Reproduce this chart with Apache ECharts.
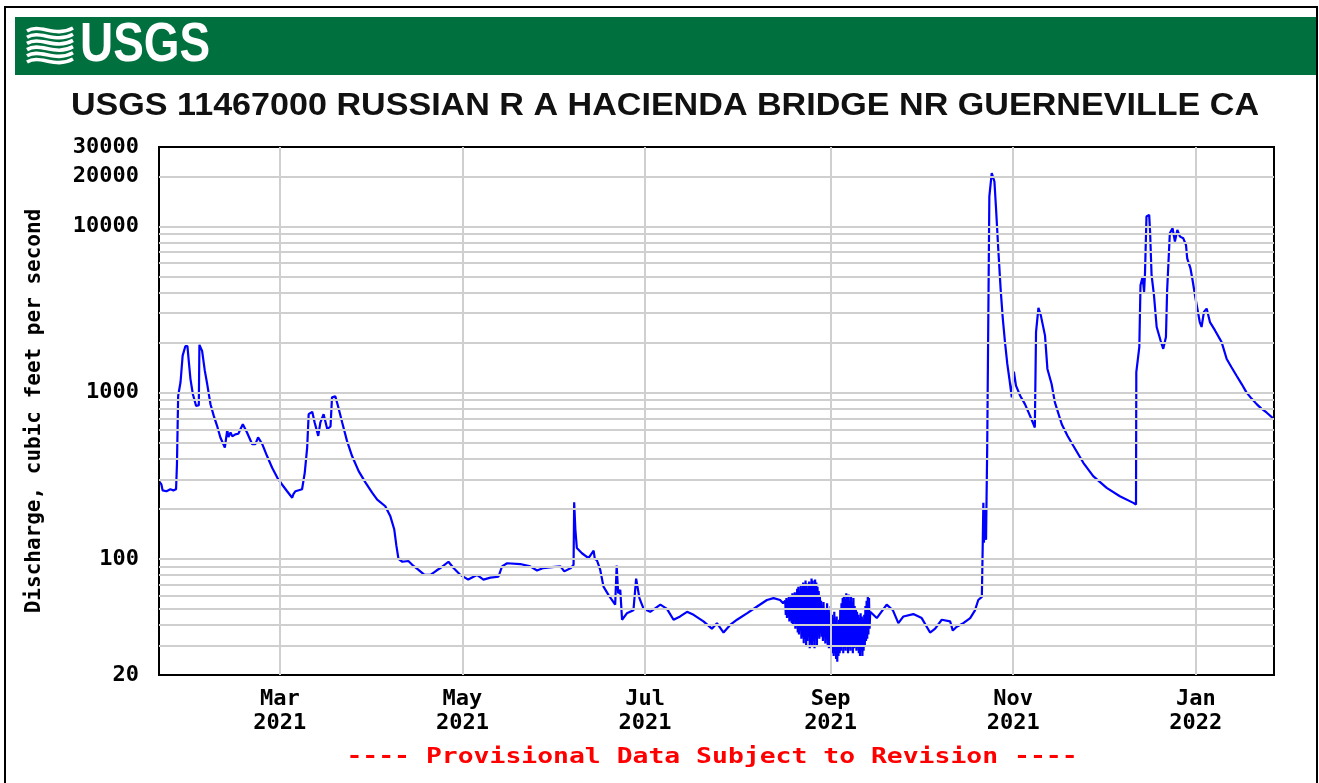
<!DOCTYPE html>
<html><head><meta charset="utf-8">
<script src="https://cdn.jsdelivr.net/npm/echarts@6/dist/echarts.min.js"></script>
<style>html,body{margin:0;padding:0;background:#fff}#c{width:1319px;height:783px}</style>
</head><body><div id="c"></div>
<script>
const chartTitle = "USGS 11467000 RUSSIAN R A HACIENDA BRIDGE NR GUERNEVILLE CA";
const yAxisName = "Discharge, cubic feet per second";
const noteText = "---- Provisional Data Subject to Revision ----";
const startTime = Date.UTC(2021, 0, 19, 15);
const endTime = Date.UTC(2022, 0, 27, 3);
const monthTicks = ["2021-03-01", "2021-05-01", "2021-07-01", "2021-09-01", "2021-11-01", "2022-01-01"];
const monthNames = ["Jan","Feb","Mar","Apr","May","Jun","Jul","Aug","Sep","Oct","Nov","Dec"];
const yTickLabels = [20, 100, 1000, 10000, 20000, 30000];
const yGridValues = [30,40,50,60,70,80,90,100,200,300,400,500,600,700,800,900,1000,2000,3000,4000,5000,6000,7000,8000,9000,10000,20000];

// Feb - mid Aug: days since start of plot window, and flows (cfs)
const daysA = [
0,0.8,1.2,2.5,3.8,4.8,5.7,6.0,6.4,7.2,7.9,8.8,9.5,9.9,10.5,11.3,12.4,13.3,13.5,14.4,15.3,16.1,17.2,18.3,19.4,20.5,22.0,22.8,23.2,23.9,24.5,25.5,26.5,28.0,29.4,31.1,32.2,33.1,34.5,36.1,37.8,39.5,41.1,42.8,44.5,44.9,45.6,47.8,48.7,49.5,50.0,51.2,52.0,53.2,53.9,55.0,56.2,57.3,57.8,58.9,59.8,61.2,62.8,64.5,66.7,69.0,71.2,72.9,75.6,77.3,78.6,79.3,80.0,81.3,83.3,84.6,86.6,88.7,90.7,92.7,94.0,96.7,98.4,100.7,103.3,106.2,108.4,110.7,113.4,114.6,116.3,120.7,124.0,126.3,128.4,131.3,134.1,135.4,137.6,138.5,138.7,139.1,139.6,141.3,143.5,145.2,145.6,146.3,147.4,148.5,150.2,152.4,152.9,153.4,154.1,154.7,156.3,158.5,159.4,160.5,161.9,164.1,167.5,169.7,171.9,174.1,176.4,178.6,181.9,184.7,186.4,188.6,190.8,193.1,196.4,199.7,203.1,205.3,207.5,208.5
];
const flowsA = [
293,280,258,255,262,258,262,370,955,1157,1667,1900,1900,1580,1210,980,830,840,1937,1780,1355,1125,850,724,631,537,467,596,540,575,545,560,565,645,575,490,490,537,490,415,353,308,280,255,233,245,255,262,330,467,741,766,660,549,660,741,603,625,935,948,830,660,512,415,337,287,250,227,207,180,150,120,100,96,97,92,86,80,80,85,88,96,88,80,75,80,75,77,78,90,94,93,90,85,88,89,90,84,88,92,219,150,116,108,101,112,100,98,86,68,60.5,53,91,62,65,43,47,49,76,58,50,48,53,50,43,45,48,46,42,38,41,36,40,43,47,51.5,56.5,58,56.5,54
];
// mid Aug - mid Sep: rapidly fluctuating record, sampled every 0.2 day
const noiseStartDay = 209.2;
const noiseStepDay = 0.2;
const noiseFlows = [
56,46,58,44,55,45,59,42,57,43,
60,41,62,40,58,42,63,38,61,40,
66,36,68,35,64,37,70,33,67,34,
72,31,69,33,74,30,71,32,66,34,
73,29,70,31,76,30,74,32,70,29,
75,33,72,30,68,35,64,33,60,36,
56,34,52,32,55,36,50,31,48,33,
54,30,50,29,47,31,52,28,46,27,
44,26,48,27,42,25,45,24,40,26,
43,27,50,28,54,30,58,27,60,29,
57,28,62,30,59,27,61,29,56,28,
60,31,55,27,58,29,52,30,50,28,
48,30,46,27,44,26,47,29,45,26,
43,28,46,30,52,32,56,33,60,35,
58,38,48
];
// mid Sep - end
const daysB = [
239.8,243.1,245.2,247.0,248.7,252.0,254.8,257.6,259.3,261.5,264.3,265.2,266.5,268.7,271.0,272.6,273.7,274.9,275.2,275.4,275.6,275.9,276.3,276.7,277.3,277.4,278.2,278.7,279.1,279.6,280.4,281.2,281.9,282.6,283.4,284.1,284.9,285.6,286.3,287.7,289.3,291.0,292.6,293.0,293.8,294.6,296.0,296.8,298.2,299.3,301.6,303.5,305.4,308.8,312.1,316.6,321.0,325.5,326.4,326.5,327.5,327.9,328.6,329.1,329.4,329.9,330.8,331.1,331.6,332.4,333.3,334.6,335.5,336.4,336.8,337.7,338.6,339.4,340.2,341.1,342.2,343.1,343.5,344.6,345.3,346.1,346.8,347.7,348.3,349.1,350.0,351.1,352.8,355.0,356.7,358.3,360.0,361.7,363.3,365.0,366.7,368.3,370.0,372.5
];
const flowsB = [
44,53,49,41,45,46.5,44,36,38,43,42,37,39,41,44,49,56.5,59,124,217,125,200,130,489,500,15100,20900,20500,18600,13150,7200,4120,2780,2030,1486,1207,935,1336,1100,957,852,724,616,2310,3230,2913,2200,1387,1125,873,645,550,480,378,314,267,238,217,212,1325,1875,4420,4960,4030,5200,11450,11720,9300,5080,3850,2480,2056,1832,2157,4120,9080,9730,8090,9500,8670,8470,7720,6410,5580,4740,3850,3270,2655,2480,3055,3200,2655,2365,2010,1592,1420,1262,1125,1002,920,852,800,759,692
];

const DAY = 86400000;
const toPoint = (d, v) => [startTime + d * DAY, v];
const seriesData = []
  .concat(daysA.map((d, i) => toPoint(d, flowsA[i])))
  .concat(noiseFlows.map((v, i) => toPoint(noiseStartDay + i * noiseStepDay, v)))
  .concat(daysB.map((d, i) => toPoint(d, flowsB[i])));
const monthTs = monthTicks.map(s => { const p = s.split('-').map(Number); return Date.UTC(p[0], p[1] - 1, p[2]); });

const mono = '"DejaVu Sans Mono", "Liberation Mono", monospace';
const gridLineStyle = { color: '#cfcfcf', width: 2, type: 'solid' };

// USGS wave logo stripes
const waves = [];
for (let i = 0; i < 6; i++) {
  const y0 = 29 + i * 6.2;
  waves.push({
    type: 'bezierCurve',
    shape: { x1: 27, y1: y0 + 2, cpx1: 40, cpy1: y0 - 6, cpx2: 55, cpy2: y0 + 9, x2: 73, y2: y0 - 1 },
    style: { stroke: '#fff', lineWidth: 3.6, fill: null },
    silent: true
  });
}

const chart = echarts.init(document.getElementById('c'), null, { renderer: 'canvas' });
chart.setOption({
  animation: false,
  backgroundColor: '#fff',
  grid: { left: 159, right: 45, top: 147, bottom: 108, show: true, borderColor: '#000', borderWidth: 2, backgroundColor: 'transparent', z: 5 },
  xAxis: {
    type: 'value', min: startTime, max: endTime,
    axisLine: { show: false }, axisTick: { show: false }, splitLine: { show: false },
    axisLabel: {
      customValues: monthTs,
      margin: 12,
      fontFamily: mono, fontWeight: 'bold', fontSize: 22, color: '#000', lineHeight: 24,
      formatter: v => { const d = new Date(v); return monthNames[d.getUTCMonth()] + '\n' + d.getUTCFullYear(); }
    }
  },
  yAxis: {
    type: 'log', logBase: 10, min: 20, max: 30000,
    name: yAxisName, nameLocation: 'middle', nameGap: 114, nameRotate: 90,
    nameTextStyle: { fontFamily: mono, fontWeight: 'bold', fontSize: 21, color: '#000' },
    axisLine: { show: false }, axisTick: { show: false }, splitLine: { show: false }, minorSplitLine: { show: false },
    axisLabel: {
      customValues: yTickLabels, margin: 20,
      fontFamily: mono, fontWeight: 'bold', fontSize: 22, color: '#000',
      formatter: v => String(Math.round(v))
    }
  },
  series: [
    {
      type: 'line', z: 1, data: [[startTime, 20]], showSymbol: false, symbol: 'none',
      lineStyle: { width: 0 }, silent: true,
      markLine: {
        silent: true, symbol: 'none', animation: false, label: { show: false },
        emphasis: { disabled: true }, lineStyle: gridLineStyle,
        data: yGridValues.map(v => ({ yAxis: v })).concat(monthTs.map(t => ({ xAxis: t })))
      }
    },
    {
      type: 'line', z: 3, data: seriesData, showSymbol: false, symbol: 'none',
      lineStyle: { color: '#0000ff', width: 2.2 }, itemStyle: { color: '#0000ff' }, silent: true
    }
  ],
  graphic: [
    { type: 'rect', shape: { x: 5, y: 7, width: 1312, height: 800 }, style: { fill: null, stroke: '#000', lineWidth: 2 }, silent: true },
    { type: 'rect', shape: { x: 15, y: 17, width: 1301, height: 58 }, style: { fill: '#00703f' }, silent: true },
    { type: 'group', children: waves },
    { type: 'text', x: 80, y: 46, scaleX: 0.82, style: { text: 'USGS', font: 'bold 56px "Liberation Sans", Arial, sans-serif', fill: '#fff', align: 'left', verticalAlign: 'middle' }, silent: true },
    { type: 'text', x: 665, y: 106, scaleX: 1.10, style: { text: chartTitle, font: 'bold 31px "Liberation Sans", Arial, sans-serif', fill: '#111', align: 'center', verticalAlign: 'middle' }, silent: true },
    { type: 'text', x: 712, y: 757, scaleX: 1.2, style: { text: noteText, font: 'bold 22px "DejaVu Sans Mono", monospace', fill: '#ff0000', align: 'center', verticalAlign: 'middle' }, silent: true }
  ]
});
</script>
</body></html>
